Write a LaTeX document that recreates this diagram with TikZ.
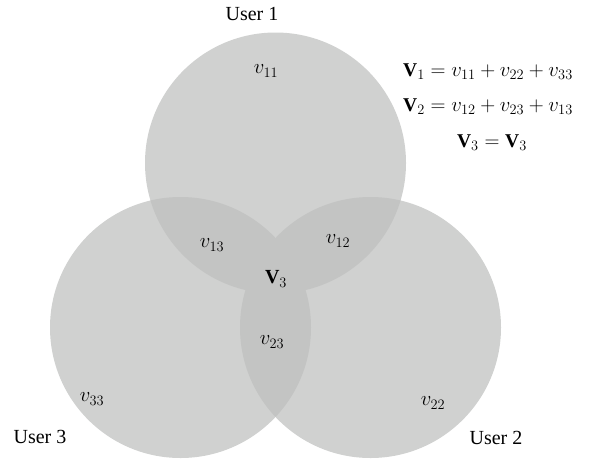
\documentclass[tikz,border=0pt]{standalone}
\usepackage{fontspec}
\setmainfont{Liberation Serif}
\usepackage{amsmath}
\definecolor{single}{RGB}{208,209,208}
\definecolor{pair}{RGB}{195,196,195}
\begin{document}
\begin{tikzpicture}[x=1pt,y=-1pt,
  lbl/.style={font=\fontsize{20}{24}\selectfont, inner sep=0pt},
  eq/.style={font=\fontsize{19.5}{24}\selectfont, inner sep=0pt},
  ]
\useasboundingbox (0,0) rectangle (591,461);
\def\R{130.5}
\coordinate (A) at (275.5,163);
\coordinate (B) at (180.5,327.5);
\coordinate (C) at (370.5,327.5);
\fill[single] (A) circle (\R);
\fill[single] (B) circle (\R);
\fill[single] (C) circle (\R);
\begin{scope}
  \clip (A) circle (\R);
  \fill[pair] (B) circle (\R);
  \fill[pair] (C) circle (\R);
\end{scope}
\begin{scope}
  \clip (B) circle (\R);
  \fill[pair] (C) circle (\R);
\end{scope}
\node[lbl] (u1) at (252,14) {User 1};
\node[lbl] (u3) at (40,437) {User 3};
\node[lbl] (u2) at (496,438) {User 2};
\node[lbl] (v11) at (266,71) {$v_{11}$};
\node[lbl] (v13) at (212,245) {$v_{13}$};
\node[lbl] (v12) at (338,241) {$v_{12}$};
\node[lbl] (V3) at (276,279) {$\mathbf{V}_3$};
\node[lbl] (v23) at (272,342) {$v_{23}$};
\node[lbl] (v33) at (92,399) {$v_{33}$};
\node[lbl] (v22) at (433,403) {$v_{22}$};
\node[eq] (e1) at (488,72) {$\mathbf{V}_1 = v_{11} + v_{22} + v_{33}$};
\node[eq] (e2) at (488,107) {$\mathbf{V}_2 = v_{12} + v_{23} + v_{13}$};
\node[eq] (e3) at (492,143) {$\mathbf{V}_3 = \mathbf{V}_3$};
\end{tikzpicture}
\end{document}
